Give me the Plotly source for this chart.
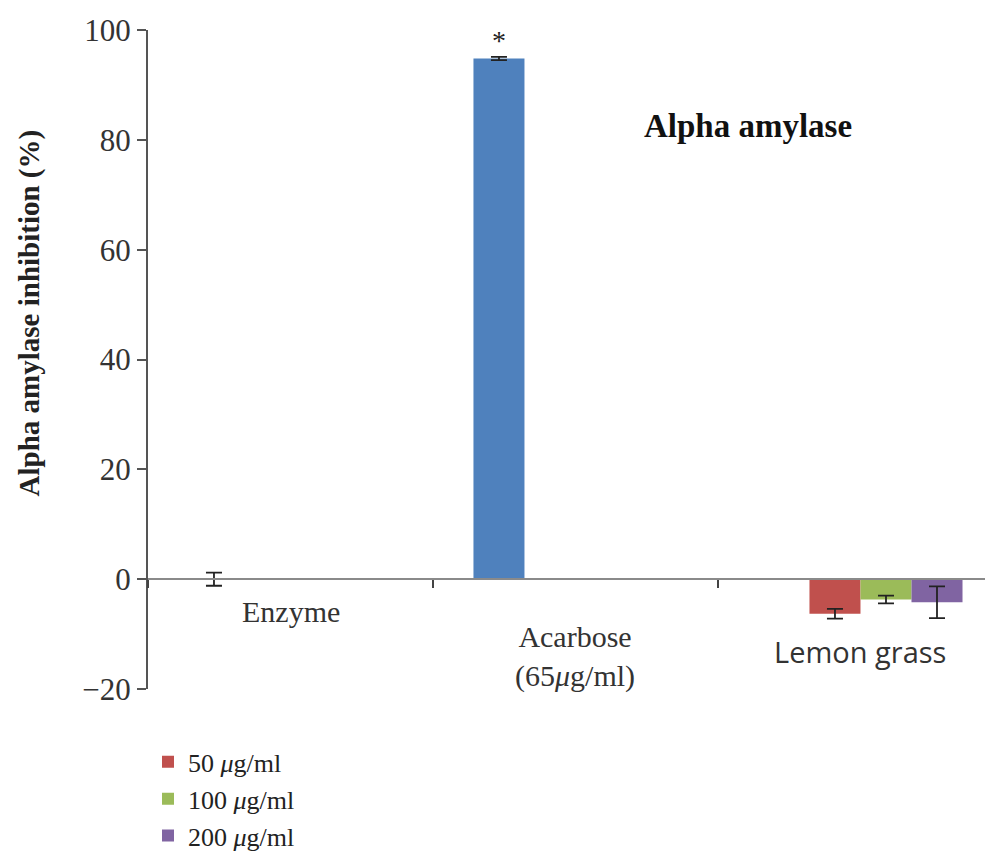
import plotly.graph_objects as go

categories = ["Enzyme", "Acarbose", "Lemon grass"]
category_labels = ["Enzyme", "Acarbose<br>(65<i>μ</i>g/ml)", "Lemon grass"]

control_values = [0.0, 94.8, None]
control_errors = [1.2, 0.3, 0.0]

series_names = ["50 <i>μ</i>g/ml", "100 <i>μ</i>g/ml", "200 <i>μ</i>g/ml"]
series_values = [
    [None, None, -6.3],
    [None, None, -3.7],
    [None, None, -4.2],
]
series_errors = [
    [0, 0, 0.9],
    [0, 0, 0.7],
    [0, 0, 2.9],
]
series_colors = ["#C0504D", "#9BBB59", "#8064A2"]
control_text = ["", "*", ""]

serif = "Liberation Serif"

fig = go.Figure()
fig.add_trace(go.Bar(
    x=categories, y=control_values, name="Control",
    marker=dict(color="#4F81BD", line=dict(width=0)),
    error_y=dict(type="data", array=control_errors, visible=True,
                 color="#222222", thickness=1.8, width=8),
    text=control_text, textposition="outside",
    textfont=dict(family=serif, size=28, color="#222222"),
    cliponaxis=False, showlegend=False,
))
for i, (nm, vals, errs, col) in enumerate(zip(series_names, series_values, series_errors, series_colors)):
    fig.add_trace(go.Bar(
        x=categories, y=vals, name=nm, legendgroup=f"g{i}",
        marker=dict(color=col, line=dict(width=0)),
        error_y=dict(type="data", array=errs, visible=True,
                     color="#222222", thickness=1.8, width=8),
    ))

label_y = [-5.8, -14.0, -13.2]
label_fonts = [dict(family=serif, size=30, color="#333333"),
               dict(family=serif, size=30, color="#333333"),
               dict(family="Open Sans", size=29, color="#333333")]
for cat, lab, yv, fnt in zip(categories, category_labels, label_y, label_fonts):
    fig.add_annotation(x=cat, y=yv, xref="x", yref="y", text=lab, showarrow=False,
                       font=fnt, align="center")

fig.add_annotation(x=0.71, y=0.884, xref="paper", yref="paper", xanchor="center",
                   text="<b>Alpha amylase</b>", showarrow=False,
                   font=dict(family=serif, size=33, color="#111111"))

fig.add_annotation(x=-0.14, y=0.571, xref="paper", yref="paper",
                   xanchor="center", yanchor="middle", textangle=-90,
                   text="<b>Alpha amylase inhibition (%)</b>", showarrow=False,
                   font=dict(family=serif, size=29, color="#222222"))

fig.update_layout(
    width=985, height=852,
    margin=dict(l=140, r=0, t=22, b=171, autoexpand=False),
    paper_bgcolor="white", plot_bgcolor="white",
    barmode="group", bargap=0.284, bargroupgap=0,
    showlegend=True,
    legend=dict(x=0.0, y=-0.075, xanchor="left", yanchor="top",
                font=dict(family=serif, size=26, color="#222222"),
                tracegroupgap=0, itemwidth=30, bgcolor="rgba(0,0,0,0)"),
    font=dict(family=serif, color="#333333"),
)
fig.update_xaxes(
    range=[-0.5, 2.465], anchor="free", position=20/120, automargin=False,
    showline=True, linecolor="#8a8a8a", linewidth=2,
    tickson="boundaries", ticks="outside", ticklen=8, tickwidth=1.5, tickcolor="#444444",
    showticklabels=False, showgrid=False, zeroline=False,
)
fig.update_yaxes(
    range=[-20, 100], tickvals=[-20, 0, 20, 40, 60, 80, 100],
    ticktext=["−20", "0", "20", "40", "60", "80", "100"], automargin=False,
    showline=True, linecolor="#555555", linewidth=2,
    ticks="outside", ticklen=9, tickwidth=1.5, tickcolor="#555555",
    tickfont=dict(family=serif, size=31, color="#333333"),
    showgrid=False, zeroline=False,
)

fig.write_html("out.html")
